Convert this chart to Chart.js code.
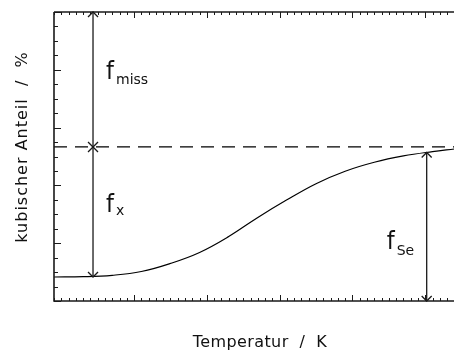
<!DOCTYPE html>
<html>
<head>
<meta charset="utf-8">
<script src="https://cdn.jsdelivr.net/npm/chart.js@4.4.1/dist/chart.umd.min.js"></script>
<style>
  html, body { margin: 0; padding: 0; background: #fff; overflow: hidden; }
  #wrap { position: relative; width: 470px; height: 350px; }
</style>
</head>
<body>
<div id="wrap"><canvas id="c" width="470" height="350"></canvas></div>
<script>
// Temperature (arbitrary units, one unit per minor tick) and cubic fraction in %
const temperatur = [0, 4, 8, 12, 16, 20, 24, 28, 32, 36, 40, 44, 48, 52, 55];
const kubischerAnteil = [8.3, 8.4, 8.9, 10.2, 13.0, 16.8, 22.3, 28.9, 35.0, 40.6, 44.9, 48.0, 50.2, 51.7, 52.6];

// Saturation level and the quantities marked by arrows
const fInf = 53.3;
const fLow = 8.3;
const fSe = 51.4;
const tLeftArrow = 5.36;
const tRightArrow = 51.2;

// Axis ranges and tick positions (no tick labels)
const xRange = [0, 56.6];
const yRange = [0, 100];
const xMajorTicks = [11, 21, 31, 41, 51];
const xMinorStep = 1;
const yMajorStep = 20;
const yMinorStep = 5;

const xTitle = 'Temperatur  /  K';
const yTitle = 'kubischer Anteil  /  %';

const TEXT_FONT = '"DejaVu Sans ExtraLight", "DejaVu Sans", sans-serif';
const F_FONT = '"DejaVu Sans Condensed", "DejaVu Sans", sans-serif';

function drawArrowHead(ctx, x, y, dir) {
  // dir = -1 points up, +1 points down
  ctx.beginPath();
  ctx.moveTo(x - 5, y - dir * 5);
  ctx.lineTo(x, y);
  ctx.lineTo(x + 5, y - dir * 5);
  ctx.stroke();
}

function doubleArrow(ctx, x, yTop, yBottom) {
  ctx.beginPath();
  ctx.moveTo(x, yTop);
  ctx.lineTo(x, yBottom);
  ctx.stroke();
  drawArrowHead(ctx, x, yTop, -1);
  drawArrowHead(ctx, x, yBottom, 1);
}

function subLabel(ctx, x, yMain, ySub, sub) {
  ctx.font = '25px ' + F_FONT;
  ctx.fillText('f', x, yMain);
  ctx.font = '14px ' + TEXT_FONT;
  ctx.fillText(sub, x + 10, ySub);
}

const frameAndNotes = {
  id: 'frameAndNotes',
  afterDatasetsDraw(chart) {
    const { ctx, chartArea: a, scales } = chart;
    const xs = scales.x, ys = scales.y;
    ctx.save();
    ctx.strokeStyle = '#1a1a1a';
    ctx.fillStyle = '#111';

    // frame
    ctx.lineWidth = 1.6;
    ctx.beginPath();
    ctx.moveTo(a.left, a.top);
    ctx.lineTo(a.left, a.bottom);
    ctx.lineTo(a.right, a.bottom);
    ctx.moveTo(a.left, a.top);
    ctx.lineTo(a.right, a.top);
    ctx.moveTo(a.right, a.top);
    ctx.lineTo(a.right, a.bottom);
    ctx.stroke();

    // inward ticks on bottom and top
    ctx.lineWidth = 1;
    for (let t = Math.ceil(xRange[0]); t <= xRange[1]; t += xMinorStep) {
      const px = Math.round(xs.getPixelForValue(t)) + 0.5;
      const major = xMajorTicks.includes(t);
      const len = major ? 6 : 3;
      ctx.beginPath();
      ctx.moveTo(px, a.bottom);
      ctx.lineTo(px, a.bottom - len);
      ctx.moveTo(px, a.top);
      ctx.lineTo(px, a.top + len);
      ctx.stroke();
    }
    // inward ticks on left and right
    for (let v = yRange[0]; v <= yRange[1]; v += yMinorStep) {
      const py = Math.round(ys.getPixelForValue(v)) + 0.5;
      const major = v % yMajorStep === 0;
      const len = major ? 7 : 4;
      ctx.beginPath();
      ctx.moveTo(a.left, py);
      ctx.lineTo(a.left + len, py);
      ctx.moveTo(a.right, py);
      ctx.lineTo(a.right - len, py);
      ctx.stroke();
    }

    // arrows
    ctx.lineWidth = 1.3;
    const xl = xs.getPixelForValue(tLeftArrow);
    const xr = xs.getPixelForValue(tRightArrow);
    doubleArrow(ctx, xl, ys.getPixelForValue(yRange[1]), ys.getPixelForValue(fInf));
    doubleArrow(ctx, xl, ys.getPixelForValue(fInf), ys.getPixelForValue(fLow));
    doubleArrow(ctx, xr, ys.getPixelForValue(fSe), ys.getPixelForValue(yRange[0]));

    // arrow labels
    ctx.textBaseline = 'alphabetic';
    ctx.textAlign = 'left';
    subLabel(ctx, xl + 13, 79, 84, 'miss');
    subLabel(ctx, xl + 13, 212, 215, 'x');
    subLabel(ctx, xr - 40, 249, 255, 'Se');

    // axis titles
    ctx.font = '16px ' + TEXT_FONT;
    ctx.textAlign = 'center';
    ctx.letterSpacing = '0.4px';
    ctx.fillText(xTitle, 260, 347);
    ctx.letterSpacing = '1px';
    ctx.translate(27, 147);
    ctx.rotate(-Math.PI / 2);
    ctx.fillText(yTitle, 0, 0);
    ctx.restore();
  }
};

new Chart(document.getElementById('c'), {
  type: 'line',
  data: {
    datasets: [
      {
        data: temperatur.map((t, i) => ({ x: t, y: kubischerAnteil[i] })),
        borderColor: '#000',
        borderWidth: 1.2,
        pointRadius: 0,
        tension: 0.4,
        fill: false
      },
      {
        data: [{ x: xRange[0], y: fInf }, { x: xRange[1], y: fInf }],
        borderColor: '#000',
        borderWidth: 1.2,
        borderDash: [13, 8],
        pointRadius: 0,
        fill: false
      }
    ]
  },
  options: {
    responsive: false,
    animation: false,
    devicePixelRatio: 1,
    layout: { padding: { left: 54, top: 12, right: 4, bottom: 49 } },
    plugins: { legend: { display: false }, tooltip: { enabled: false } },
    scales: {
      x: { type: 'linear', min: xRange[0], max: xRange[1], display: false },
      y: { type: 'linear', min: yRange[0], max: yRange[1], display: false }
    }
  },
  plugins: [frameAndNotes]
});
</script>
</body>
</html>
